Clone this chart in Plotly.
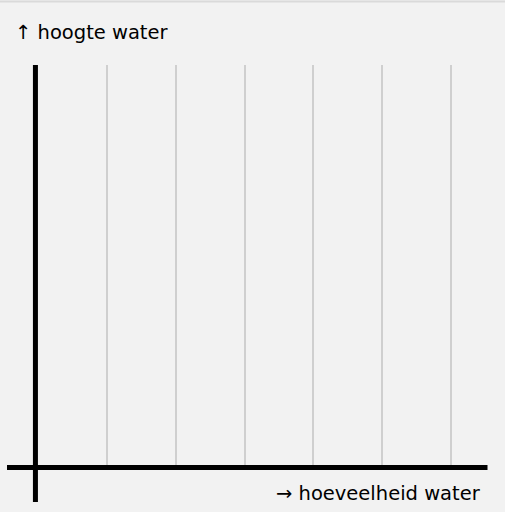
import plotly.graph_objects as go

# Data: positions of the vertical grid lines (in x units) and axis labels
grid_x = [1, 2, 3, 4, 5, 6]
y_label = "↑ hoogte water"
x_label = "→ hoeveelheid water"

W, H = 505, 512
BG = "#f2f2f2"
FONT = "DejaVu Sans"
FS = 19.5

fig = go.Figure()
fig.add_trace(go.Scatter(x=[], y=[], mode="lines", showlegend=False))

fig.update_layout(
    width=W, height=H,
    margin=dict(l=0, r=0, t=65, b=45),
    paper_bgcolor=BG, plot_bgcolor=BG,
    showlegend=False,
    xaxis=dict(range=[-0.555, 6.785], tickvals=grid_x, showticklabels=False,
               ticks="", showgrid=True, gridcolor="#cfcfcf", gridwidth=2,
               zeroline=False, showline=False, fixedrange=True),
    yaxis=dict(range=[0, 1], showgrid=False, showticklabels=False, ticks="",
               zeroline=False, showline=False, fixedrange=True),
    shapes=[
        # thin top border
        dict(type="line", xref="paper", yref="paper", x0=0, x1=1,
             y0=(467 - 1.5) / 402, y1=(467 - 1.5) / 402,
             line=dict(color="#dadada", width=2)),
        # y axis
        dict(type="line", xref="x", yref="paper", x0=-0.04, x1=-0.04,
             y0=-0.087, y1=1.0, line=dict(color="black", width=5)),
        # x axis
        dict(type="line", xref="paper", yref="paper", x0=7 / W, x1=487.5 / W,
             y0=-0.001, y1=-0.001, line=dict(color="black", width=5)),
    ],
    annotations=[
        dict(text=y_label, xref="paper", yref="paper", x=13 / W, y=(467 - 33) / 402,
             xanchor="left", yanchor="middle", showarrow=False,
             font=dict(family=FONT, size=FS, color="black")),
        dict(text=x_label, xref="paper", yref="paper", x=483 / W, y=(467 - 493) / 402,
             xanchor="right", yanchor="middle", showarrow=False,
             font=dict(family=FONT, size=FS, color="black")),
    ],
)

fig.write_html("out.html", config={"displayModeBar": False})
